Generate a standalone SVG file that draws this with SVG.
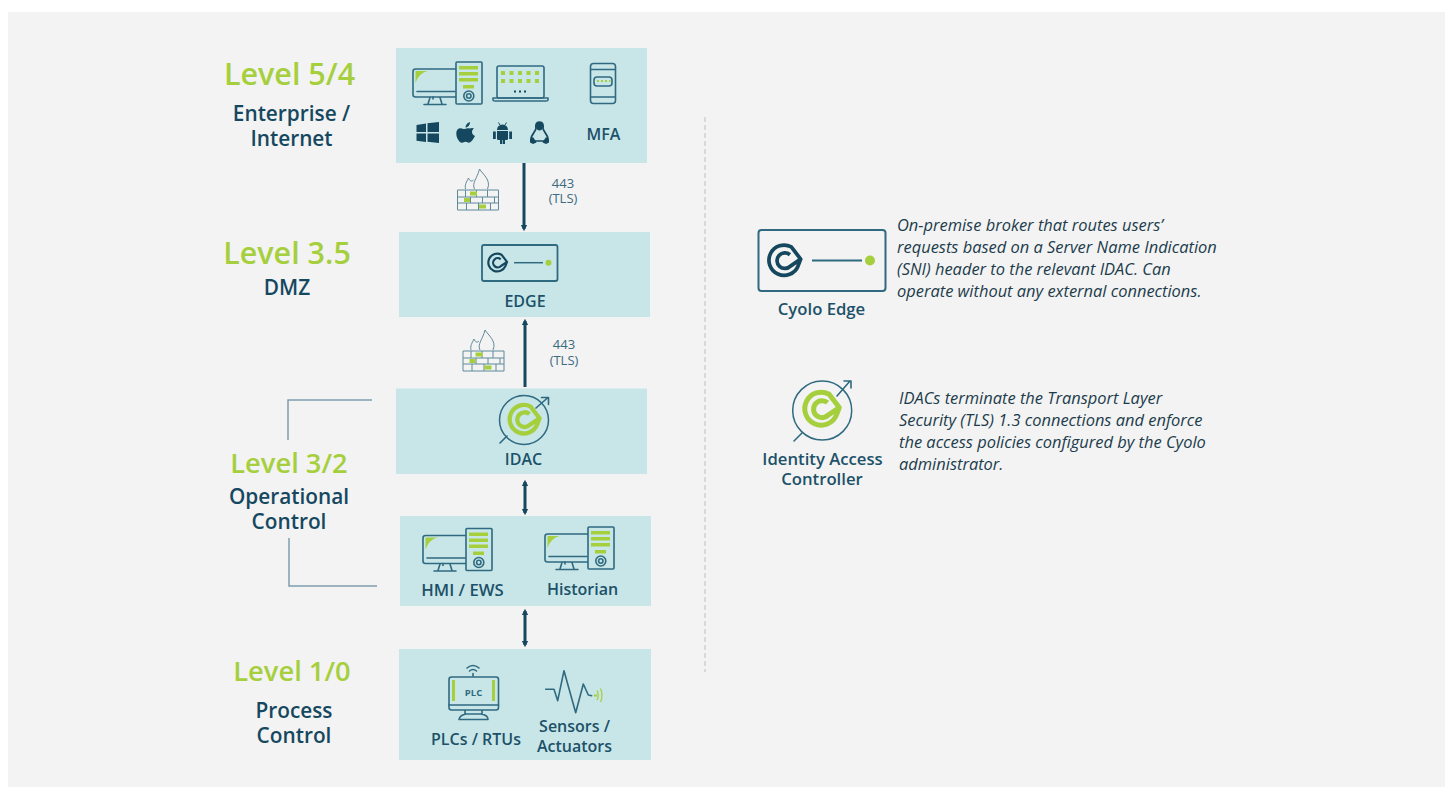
<svg xmlns="http://www.w3.org/2000/svg" xmlns:xlink="http://www.w3.org/1999/xlink" width="1453" height="787" viewBox="0 0 1453 787">
<style>
text{font-family:"Open Sans","Liberation Sans",sans-serif;text-anchor:middle;fill:#15485f}
.lv{font-size:30.500px;font-weight:600;fill:#a6cf3e}
.lv2{font-size:27.300px}
.ti{font-size:20.800px;font-weight:600}
.lb{font-size:16px;font-weight:600;fill:#1c5169}
.lg{font-size:16.700px}
.pt{font-size:13px;fill:#3c6a80}
.de{font-size:16.450px;font-style:italic;text-anchor:start;fill:#1c3c4c}
.box{fill:#c8e6e8}
.o{fill:none;stroke:#2f6a80;stroke-width:1.600;stroke-linejoin:round;stroke-linecap:round}
.g{fill:#a6cf3e}
.d{fill:#15485f}
.conn{fill:none;stroke:#15485f;stroke-width:3}
.br{fill:none;stroke:#7d9eae;stroke-width:1.500}
</style>
<defs>
<marker id="ah" viewBox="0 0 6 6" refX="4" refY="3" markerWidth="2.200" markerHeight="2.600" orient="auto-start-reverse"><path d="M0 0L6 3L0 6Z" fill="#15485f"/></marker>
<symbol id="pc" overflow="visible" viewBox="0 0 70 43" width="70" height="43">
<rect x="1" y="7" width="45" height="28" rx="2.500" class="o"/>
<path d="M3.500 9H15.500Q7 11 3.500 21Z" class="g"/>
<path d="M5 29.500H43M21 35V37M18 35.500L16 42M28 35.500L30 42M12 42.500H34" class="o"/>
<rect x="44" y="0" width="26" height="42" rx="1" fill="#c8e6e8" stroke="#2f6a80" stroke-width="1.600"/>
<path d="M47 4h19v3.600h-19zM47 10h19v3.600h-19zM47 16h19v3.600h-19zM51 23h11v3.400h-11z" class="g"/>
<circle cx="56.800" cy="34" r="5" class="o"/><circle cx="56.800" cy="34" r="2.200" class="o"/>
</symbol>
<path id="logo" d="M9.500-.8L8 3.200A8.900 8.900 0 1 1 4-8L9.500-.8L3.500 3.300A4.600 4.600 0 1 1 3.200-3.400" fill="none" stroke-linejoin="round"/>
<symbol id="fw" overflow="visible" viewBox="0 0 44 44" width="44" height="44">
<path d="M1 22H42M1 29H42M1 35H42M1 42H42M1 22V42M42 22V42M9 22V29M20 22V29M31 22V29M14 29V35M26 29V35M38 29V35M10 35V42M22 35V42M34 35V42" fill="none" stroke="#5f8a9b" stroke-width="1"/>
<path d="M18 21C15 15 21 10 23 1C26 6 35 12 31 21M9 21C8 17 10 14 12 10C13 13 15 14 17 12" fill="none" stroke="#5f8a9b" stroke-width="1"/>
<path d="M13.500 23.500h7v4h-7zM7.500 30h6v4h-6zM22.500 36.500h7v4h-7z" class="g"/>
</symbol>
<path id="idacg" d="M9.500-.8L8 3.200A8.900 8.900 0 1 1 4-8L9.500-.8L3.500 3.300A4.600 4.600 0 1 1 3.200-3.400" fill="none" stroke="#a6cf3e" stroke-width="2.700" stroke-linejoin="round"/>
</defs>
<rect width="1453" height="787" fill="#fff"/>
<rect x="8" y="12" width="1437" height="775" fill="#f3f3f3"/>
<g id="connectors">
<path class="conn" d="M524 163V229" marker-end="url(#ah)"/>
<path class="conn" d="M525 387V321" marker-end="url(#ah)"/>
<path class="conn" d="M525 482V513" marker-start="url(#ah)" marker-end="url(#ah)"/>
<path class="conn" d="M525 611V645" marker-start="url(#ah)" marker-end="url(#ah)"/>
<path class="br" d="M288 440V400H372M289 538V586H377"/>
<path d="M705 117V672" fill="none" stroke="#c9c9c9" stroke-width="1.200" stroke-dasharray="5 3"/>
</g>
<g id="levels">
<text class="lv" x="289.500" y="85">Level 5/4</text>
<text class="ti" x="291.500" y="121">Enterprise /</text>
<text class="ti" x="291.500" y="146">Internet</text>
<text class="lv" x="287" y="264">Level 3.5</text>
<text class="ti" x="287" y="295">DMZ</text>
<text class="lv lv2" x="289" y="473">Level 3/2</text>
<text class="ti" x="289" y="504">Operational</text>
<text class="ti" x="289" y="529">Control</text>
<text class="lv lv2" x="292" y="681">Level 1/0</text>
<text class="ti" x="294" y="718">Process</text>
<text class="ti" x="294" y="743">Control</text>
</g>
<g id="enterprise">
<rect class="box" x="396" y="48" width="251" height="115"/>
<use href="#pc" x="412" y="62"/>
<rect x="497" y="66" width="47" height="32" rx="2" class="o"/>
<path d="M493 98H548V100Q548 101 546 101H495Q493 101 493 100Z" class="o"/>
<path d="M501 71h4v4h-4zM509.500 71h4v4h-4zM518 71h4v4h-4zM526.500 71h4v4h-4zM535 71h4v4h-4zM501 79h4v4h-4zM509.500 79h4v4h-4zM518 79h4v4h-4zM526.500 79h4v4h-4zM535 79h4v4h-4z" class="g"/>
<path d="M514 90.500h2v2h-2zM519 90.500h2v2h-2zM524 90.500h2v2h-2z" class="d"/>
<rect x="590.500" y="63.500" width="25" height="40" rx="3" class="o"/>
<path d="M591 69.500H615M591 97H615" class="o"/>
<rect x="594" y="77" width="18" height="9" rx="3" class="o"/>
<path d="M597 80h2v2h-2zM601 80h2v2h-2zM605 80h2v2h-2zM609 80h1.500v2h-1.500z" class="g"/>
<path d="M416.500 125L426 123.500V132H416.500ZM427.500 123.300L439 122V132H427.500ZM416.500 133.500H426V142L416.500 140.700ZM427.500 133.500H439V143L427.500 141.800Z" class="d"/>
<path d="M470 128.500C467 127.500 465 129 463.500 129C462 129 460 127.500 458 129C455.500 131 456 136 458 139.500C459.500 142 461 143.500 463 142.500C465 141.500 466 141.500 468 142.500C470 143.500 473 140 475 136C471.500 134.500 471 130.500 474 128.500C472.500 127.500 471 128 470 128.500ZM465.500 127.500C465.500 125 467.500 122.500 470 122C470 125 468 127.500 465.500 127.500Z" class="d"/>
<path d="M497 130A5.500 5.500 0 0 1 508 130ZM497 131H508V139Q508 140 506.500 140H505V144H502.800V140H502.200V144H500V140H498.500Q497 140 497 139ZM493 131.500h2.800v7.500h-2.800zM509.200 131.500h2.800v7.500h-2.800z" class="d"/>
<path d="M500 125L498.500 122.500M505 125L506.500 122.500" stroke="#15485f" fill="none"/>
<path d="M539.500 122C536 122 535.500 125 536 128.500C535.500 131.500 531 135 531 139L535 141H544L548 139C548 135 543.500 131.500 543 128.500C543.500 125 543 122 539.500 122Z" fill="none" stroke="#15485f" stroke-width="1.700"/>
<path d="M536.300 123.500C535.600 127 536.300 130.500 539.500 130.500C542.700 130.500 543.300 127 542.700 123.500C541.500 121.500 537.500 121.500 536.300 123.500Z" class="d"/>
<path d="M530 139.500L533 137L536.500 142.500L533 144L530 142.500ZM549 139.500L546 137L542.500 142.500L546 144L549 142.500Z" class="d"/>
<text class="lb" x="603.500" y="140">MFA</text>
</g>
<g id="firewall-1"><use href="#fw" x="456.500" y="168"/></g>
<g id="port-1"><text class="pt" x="563" y="188">443</text><text class="pt" x="563" y="203">(TLS)</text></g>
<g id="edge">
<rect class="box" x="399" y="232" width="251" height="85"/>
<rect x="482" y="245" width="75.500" height="36" rx="2" fill="none" stroke="#2f6a80" stroke-width="1.800"/>
<use href="#logo" transform="translate(497.500,262.700)" stroke="#15485f" stroke-width="2.200"/>
<path d="M514 262.700H543" stroke="#2f6a80" stroke-width="1.500"/>
<circle cx="548.500" cy="262.700" r="3" class="g"/>
<text class="lb" x="525" y="307">EDGE</text>
</g>
<g id="firewall-2"><use href="#fw" x="462" y="329"/></g>
<g id="port-2"><text class="pt" x="564" y="349">443</text><text class="pt" x="564" y="365">(TLS)</text></g>
<g id="idac">
<rect class="box" x="396" y="388.500" width="251" height="85.500"/>
<circle cx="524" cy="420" r="24.500" fill="none" stroke="#2f6a80" stroke-width="1.500"/>
<use href="#idacg" transform="translate(524.300,419.500) scale(1.600)"/>
<path d="M536 408L548 397.500M541.500 397.500H548.500V404.500M500 443L507 436" class="o"/>
<text class="lb" x="523.500" y="465">IDAC</text>
</g>
<g id="hmi">
<rect class="box" x="400" y="516" width="251" height="90"/>
<use href="#pc" x="422" y="528.500"/>
<use href="#pc" x="544" y="527"/>
<text class="lb lg" x="462.500" y="596">HMI / EWS</text>
<text class="lb" x="582.500" y="595">Historian</text>
</g>
<g id="plc">
<rect class="box" x="399" y="649" width="252" height="111"/>
<rect x="449" y="677" width="49.500" height="33" rx="2.500" class="o"/>
<path d="M449 705H498.500M465 710.500V714M482 710.500V714M459 719.500Q460 715 466 714H481Q488 715 488 719.500Z" class="o"/>
<path d="M452 680h3v21h-3zM492 680h3v21h-3z" class="g"/>
<path d="M467 668Q473 663 479 668M469.500 671Q473 668 476.500 671M473 673.500V676" class="o" stroke-width="1.200"/>
<text x="473.500" y="696" style="font-size:9.500px;font-weight:700;fill:#2f6a80">PLC</text>
<path d="M545.700 689.300H554L557.700 700.700L564 670.700L575.700 712.700L583.300 684L588.300 695L591.700 695.700" class="o"/>
<path d="M594 695.500h3" stroke="#a6cf3e" stroke-width="2"/>
<path d="M597 690.500Q599.500 695.500 597 700M600.500 688.500Q603.500 695.500 600.500 702" fill="none" stroke="#a6cf3e" stroke-width="1.300"/>
<text class="lb" x="476" y="745">PLCs / RTUs</text>
<text class="lb" x="574.500" y="732">Sensors /</text>
<text class="lb" x="574.500" y="752">Actuators</text>
</g>
<g id="legend-edge">
<rect x="758.500" y="230" width="127" height="61" rx="3" fill="none" stroke="#2f6a80" stroke-width="2"/>
<use href="#logo" transform="translate(784.500,260.500) scale(1.700)" stroke="#15485f" stroke-width="2.200"/>
<path d="M812 260.500H862" stroke="#2f6a80" stroke-width="1.800"/>
<circle cx="870" cy="260.500" r="5" class="g"/>
<text class="lb lg" x="821.500" y="315">Cyolo Edge</text>
<text class="de" x="897" y="231">On-premise broker that routes users’</text>
<text class="de" x="897" y="253">requests based on a Server Name Indication</text>
<text class="de" x="897" y="275">(SNI) header to the relevant IDAC. Can</text>
<text class="de" x="897" y="297">operate without any external connections.</text>
</g>
<g id="legend-idac">
<circle cx="822.200" cy="410.500" r="29.500" fill="none" stroke="#2f6a80" stroke-width="1.500"/>
<use href="#idacg" transform="translate(821.700,409) scale(1.850)"/>
<path d="M837 396L850 381M844 381H851V388M794 441L802 433" class="o"/>
<text class="lb lg" x="822.500" y="465">Identity Access</text>
<text class="lb lg" x="822" y="485">Controller</text>
<text class="de" x="899" y="404">IDACs terminate the Transport Layer</text>
<text class="de" x="899" y="426">Security (TLS) 1.3 connections and enforce</text>
<text class="de" x="899" y="448">the access policies configured by the Cyolo</text>
<text class="de" x="899" y="470">administrator.</text>
</g>
</svg>
